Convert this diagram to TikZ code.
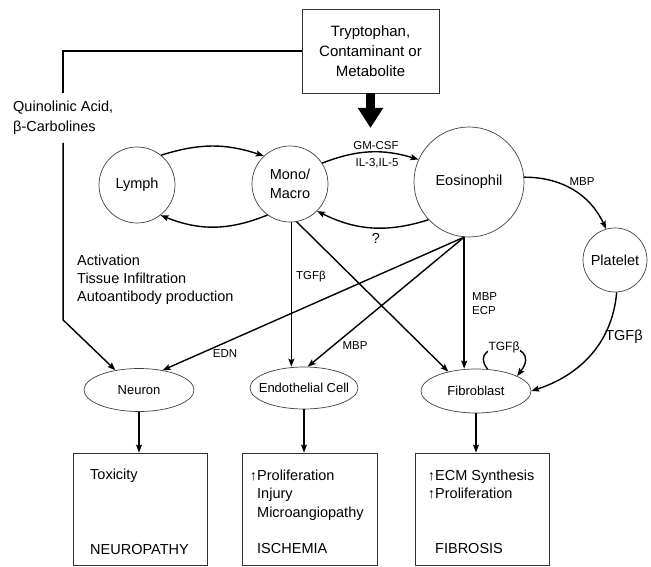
\documentclass[tikz,border=0pt]{standalone}
\usepackage{fontspec}
\setmainfont{Liberation Sans}
\usetikzlibrary{arrows.meta,shapes.geometric}
\begin{document}
\begin{tikzpicture}[x=1pt,y=-1pt,
 cell/.style={circle,draw=black!75,line width=0.7pt,inner sep=0pt,font=\fontsize{14.5}{19}\selectfont,align=center},
 tissue/.style={ellipse,draw=black!75,line width=0.7pt,inner sep=0pt,minimum width=110pt,minimum height=43pt,font=\fontsize{13}{15}\selectfont},
 outbox/.style={rectangle,draw=black!80,line width=0.8pt,minimum width=134pt,minimum height=112pt,inner sep=0pt},
 link/.style={line width=1.4pt,-{Stealth[length=8pt,width=6pt,inset=1.5pt]}},
 lab/.style={font=\fontsize{11.5}{14}\selectfont,inner sep=1pt},
 big/.style={font=\fontsize{14.5}{20}\selectfont},
 txtline/.style={anchor=base west,inner sep=0pt,font=\fontsize{14.5}{17}\selectfont},
 uparr/.style={anchor=base east,inner sep=0pt,font=\fontsize{14}{16}\selectfont},
]
\useasboundingbox (0,0) rectangle (651,567);

% source box
\node[draw=black!80,line width=0.8pt,minimum width=137pt,minimum height=84pt,align=center,font=\fontsize{15}{20}\selectfont] (src) at (370.5,51) {Tryptophan,\\Contaminant or\\Metabolite};

% cells
\node[cell,minimum size=76pt] (lymph) at (137,185) {Lymph};
\node[cell,minimum size=76pt] (mono) at (290,184) {Mono/\\Macro};
\node[cell,minimum size=110pt] (eos) at (469,182) {Eosinophil};
\node[cell,minimum size=64pt] (plate) at (615,260) {\makebox[0pt]{Platelet}};

% tissues
\node[tissue] (neuron) at (139,390) {\makebox[0pt]{Neuron}};
\node[tissue,minimum width=108pt,minimum height=42pt] (endo) at (304,388) {\makebox[0pt]{Endothelial Cell}};
\node[tissue,minimum height=44pt] (fibro) at (476,391) {\makebox[0pt]{Fibroblast}};

% outcome boxes
\node[outbox] (boxN) at (140,509) {};
\node[outbox,minimum width=135pt] (boxI) at (309.5,509) {};
\node[outbox] (boxF) at (482,509) {};

% thick arrow
\coordinate (tip) at (369,128);
\draw[line width=9pt,-{Triangle[length=20pt,width=24pt]}] (src.south) -- (src.south |- tip);

% quinolinic acid path
\node[big,align=left,inner xsep=0pt,inner ysep=8pt,anchor=west] (qa) at (13,118) {Quinolinic Acid,\\β-Carbolines};
\coordinate (qbend) at (61,320);
\draw[line width=1.4pt] (src.west) -| (qa.north);
\draw[link] (qa.south) -- (qa.south |- qbend) -- (neuron.140);

% cell interactions
\draw[link] (lymph.51) to[bend left=18] (mono.133);
\draw[link] (mono.234) to[bend left=22] (lymph.308);
\draw[link] (mono.33) to[bend left=19] (eos.156);
\draw[link] (eos.223) to[bend left=22] (mono.315);
\draw[link] (eos.5) to[out=0,in=115] (plate.106);
\draw[link] (plate.-87) to[out=-95,in=18] (fibro.east);

\draw[link] (mono.-88) -- (mono.-88 |- endo.north);
\draw[link] (mono.-80) -- (fibro.145);
\draw[link] (eos.265) -- (neuron.40);
\draw[link] (eos.265) -- (endo.80);
\draw[link] (eos.265) -- (eos.265 |- fibro.north);

% self loop
\draw[link] (fibro.62) .. controls (464,340) and (546,338) .. (fibro.20);
\node[lab,fill=white,inner sep=0.5pt,font=\fontsize{12}{14}\selectfont] (loopl) at (504,347) {TGFβ};

% down arrows
\draw[link] (neuron.south) -- (neuron.south |- boxN.north);
\draw[link] (endo.south) -- (endo.south |- boxI.north);
\draw[link] (fibro.south) -- (fibro.south |- boxF.north);

% labels
\node[lab] (l1) at (376,146) {GM-CSF};
\node[lab] (l2) at (377,163) {IL-3,IL-5};
\node[big,inner sep=0pt] (l3) at (376,238) {?};
\node[lab] (l4) at (311,277) {TGFβ};
\node[lab] (l5) at (225,354) {EDN};
\node[lab] (l6) at (355,346) {MBP};
\node[lab,align=left,anchor=west] (l7) at (471,304) {MBP\\ECP};
\node[lab] (l8) at (582,182) {MBP};
\node[big,inner sep=0pt] (l9) at (624,337) {TGFβ};

\node[big,align=left,anchor=west,inner sep=0pt,font=\fontsize{14.5}{18}\selectfont] (act) at (77,280) {Activation\\Tissue Infiltration\\Autoantibody production};

% box texts
\node[txtline] (n1) at (90,479) {Toxicity};
\node[txtline] (n2) at (90,554) {NEUROPATHY};

\node[uparr] (ia) at (257,480) {↑};
\node[txtline] (i1) at (257,480) {Proliferation};
\node[txtline] (i2) at (257,498) {Injury};
\node[txtline] (i3) at (257,517) {Microangiopathy};
\node[txtline] (i4) at (257,553) {ISCHEMIA};

\node[uparr] (fa1) at (435,480) {↑};
\node[uparr] (fa2) at (435,498) {↑};
\node[txtline] (f1) at (435,480) {ECM Synthesis};
\node[txtline] (f2) at (435,498) {Proliferation};
\node[txtline] (f3) at (435,553) {FIBROSIS};
\end{tikzpicture}
\end{document}
